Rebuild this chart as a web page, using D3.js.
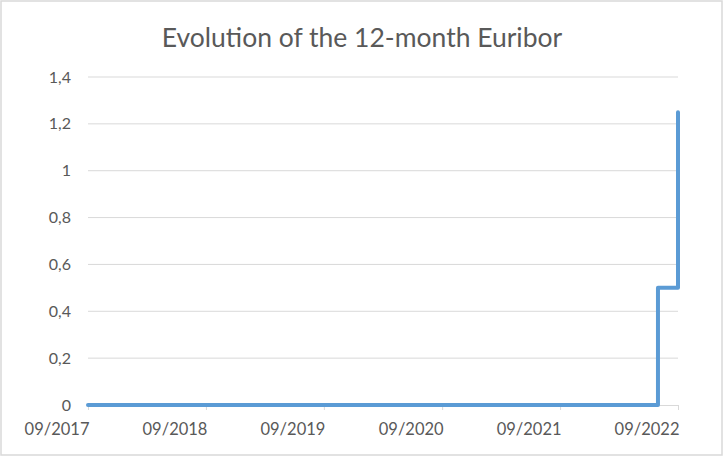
<!DOCTYPE html>
<html><head><meta charset="utf-8">
<script src="https://cdn.jsdelivr.net/npm/d3@7"></script>
<style>body{margin:0;background:#fff;} text{font-family:Lato,"Open Sans",sans-serif;}</style>
</head><body>
<svg id="c" width="725" height="457"></svg>
<script>
const title = "Evolution of the 12-month Euribor";
const changeDates = ["2017-09-01", "2022-07-01", "2022-09-01"];
const changeValues = [0, 0.5, 1.25];
const yTicks = [0, 0.2, 0.4, 0.6, 0.8, 1, 1.2, 1.4];
const xTickDates = ["2017-09-01", "2018-09-01", "2019-09-01", "2020-09-01", "2021-09-01", "2022-09-01"];

const W = 725, H = 457;
const m = {l: 88, r: 47, t: 77, b: 52};
const svg = d3.select("#c");
svg.append("rect").attr("x", 1).attr("y", 1).attr("width", 721).attr("height", 454)
  .attr("fill", "#fff").attr("stroke", "#D9D9D9").attr("stroke-width", 1.5);

const parse = d3.timeParse("%Y-%m-%d");
const x = d3.scaleTime().domain([parse(xTickDates[0]), parse(xTickDates[xTickDates.length - 1])]).range([m.l, W - m.r]);
const y = d3.scaleLinear().domain([0, 1.4]).range([H - m.b, m.t]);
const fmt = v => String(v).replace(".", ",");

// grid
svg.append("g").selectAll("line").data(yTicks.filter(v => v > 0)).join("line")
  .attr("x1", m.l).attr("x2", W - m.r).attr("y1", d => y(d)).attr("y2", d => y(d))
  .attr("stroke", "#D9D9D9").attr("stroke-width", 1);

// y labels
svg.append("g").selectAll("text").data(yTicks).join("text")
  .attr("x", 71).attr("y", d => y(d)).attr("dy", "0.35em").attr("text-anchor", "end")
  .attr("font-size", 16).attr("fill", "#595959").text(fmt);

// x axis
const xa = svg.append("g").attr("transform", `translate(0,${y(0)})`)
  .call(d3.axisBottom(x).tickValues(xTickDates.map(parse)).tickFormat(d3.timeFormat("%m/%Y")).tickSize(5).tickPadding(13));
xa.select(".domain").attr("stroke", "#D9D9D9");
xa.selectAll(".tick line").attr("stroke", "#D9D9D9");
xa.selectAll(".tick text").attr("font-size", 16.5).attr("fill", "#595959")
  .attr("text-anchor", "end").attr("x", 1)
  .style("font-family", "Lato, 'Open Sans', sans-serif");

// line
const pts = changeDates.map((d, i) => [parse(d), changeValues[i]]);
svg.append("path").datum(pts)
  .attr("d", d3.line().x(d => x(d[0])).y(d => y(d[1])).curve(d3.curveStepAfter))
  .attr("fill", "none").attr("stroke", "#5B9BD5").attr("stroke-width", 4)
  .attr("stroke-linecap", "round").attr("stroke-linejoin", "round");

svg.append("text").attr("x", 362).attr("y", 47).attr("text-anchor", "middle")
  .attr("font-size", 26.5).attr("fill", "#595959").text(title);
</script>
</body></html>
